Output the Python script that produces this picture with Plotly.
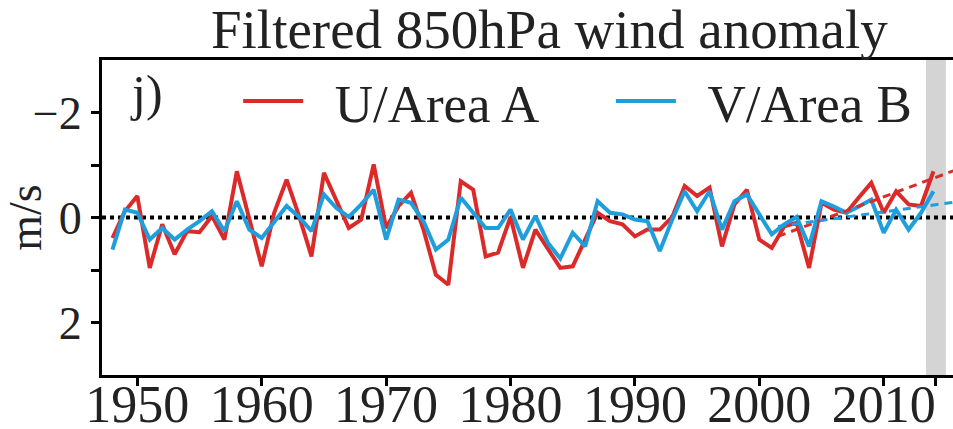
import plotly.graph_objects as go

years = list(range(1948, 2015))
u_area_a = [0.39, -0.12, -0.41, 0.96, 0.13, 0.70, 0.26, 0.28, -0.03, 0.42,
            -0.88, 0.00, 0.93, -0.09, -0.72, -0.03, 0.74, -0.85, -0.34, 0.20,
            0.04, -1.01, 0.20, -0.22, -0.47, 0.23, 1.09, 1.28, -0.69, -0.53,
            0.74, 0.67, -0.01, 0.96, 0.23, 0.61, 0.96, 0.93, 0.42, -0.09,
            0.07, 0.13, 0.36, 0.23, 0.23, -0.01, -0.60, -0.41, -0.57, 0.55,
            -0.25, -0.53, 0.42, 0.58, 0.17, 0.10, 0.96, -0.28, -0.15, -0.09,
            -0.38, -0.66, -0.09, -0.50, -0.25, -0.22, -0.88]
v_area_b = [0.61, -0.15, -0.09, 0.42, 0.20, 0.42, 0.23, 0.07, -0.12, 0.26,
            -0.31, 0.23, 0.39, 0.07, -0.22, -0.01, 0.26, -0.44, -0.18, -0.01,
            -0.25, -0.53, 0.42, -0.34, -0.28, 0.07, 0.61, 0.42, -0.38, -0.09,
            0.20, 0.20, -0.15, 0.42, -0.03, 0.48, 0.78, 0.29, 0.55, -0.31,
            -0.09, -0.06, 0.04, 0.07, 0.64, 0.04, -0.50, -0.12, -0.50, 0.23,
            -0.31, -0.44, -0.06, 0.32, 0.13, -0.01, 0.55, -0.31, -0.21, -0.09,
            -0.21, -0.34, 0.29, -0.15, 0.23, -0.09, -0.50]

trend_years = [2001.5, 2015.6]
u_trend = [0.36, -0.89]
v_trend = [0.17, -0.29]

shade_period = [2013.4, 2015.0]

x_tick_vals = [1950, 1960, 1970, 1980, 1990, 2000, 2010, 2014.2]
x_tick_text = ["1950", "1960", "1970", "1980", "1990", "2000", "2010", ""]
y_tick_vals = [-2, -1, 0, 1, 2]
y_tick_text = ["\u22122", "", "0", "", "2"]

RED = "#dc2a2a"
BLUE = "#1e9edc"
FONT = "Liberation Serif"

fig = go.Figure()

fig.add_shape(type="rect", xref="x", yref="paper",
              x0=shade_period[0], x1=shade_period[1], y0=0, y1=1,
              fillcolor="#d4d4d4", line_width=0, layer="below")

fig.add_trace(go.Scatter(x=years, y=u_area_a, mode="lines", name="\u2002U/Area A",
                         legend="legend", line=dict(color=RED, width=4)))
fig.add_trace(go.Scatter(x=years, y=v_area_b, mode="lines", name="\u2002V/Area B",
                         legend="legend2", line=dict(color=BLUE, width=4)))
fig.add_trace(go.Scatter(x=trend_years, y=u_trend, mode="lines", showlegend=False,
                         line=dict(color=RED, width=3, dash="8px,6px")))
fig.add_trace(go.Scatter(x=trend_years, y=v_trend, mode="lines", showlegend=False,
                         line=dict(color=BLUE, width=3, dash="8px,6px")))

fig.add_hline(y=0, line=dict(color="black", width=4, dash="4px,4px"), layer="below")

fig.add_annotation(text="Filtered 850hPa wind anomaly", xref="paper", yref="paper",
                   x=0.526, y=1.0, xanchor="center", yanchor="bottom", yshift=-2,
                   showarrow=False, font=dict(family=FONT, size=55, color="#222"))
fig.add_annotation(text="j)", xref="paper", yref="paper",
                   x=0.03, y=0.99, xanchor="left", yanchor="top",
                   showarrow=False, font=dict(family=FONT, size=50, color="#222"))

legend_style = dict(orientation="h", y=1.0, xanchor="left", yanchor="top",
                    font=dict(family=FONT, size=53), bgcolor="rgba(0,0,0,0)",
                    itemwidth=60)

fig.update_layout(
    width=953, height=429,
    margin=dict(l=102, r=0, t=60, b=54),
    plot_bgcolor="white", paper_bgcolor="white",
    font=dict(family=FONT, color="#222"),
    showlegend=True,
    legend=dict(x=0.160, **legend_style),
    legend2=dict(x=0.598, **legend_style),
    xaxis=dict(range=[1947.16, 2015.57], tickvals=x_tick_vals, ticktext=x_tick_text,
               showgrid=False, zeroline=False, showline=True, linecolor="black",
               linewidth=3, mirror=True, ticks="outside", ticklen=8, tickwidth=3,
               tickcolor="black", tickfont=dict(family=FONT, size=52),
               ticklabelstandoff=-26, automargin=False),
    yaxis=dict(range=[3, -3], tickvals=y_tick_vals, ticktext=y_tick_text,
               showgrid=False, zeroline=False, showline=True, linecolor="black",
               linewidth=3, ticks="outside", ticklen=8, tickwidth=3,
               tickcolor="black", tickfont=dict(family=FONT, size=46),
               title=dict(text="m/s", font=dict(family=FONT, size=46), standoff=0),
               automargin=False),
)

fig.write_html("out.html")
